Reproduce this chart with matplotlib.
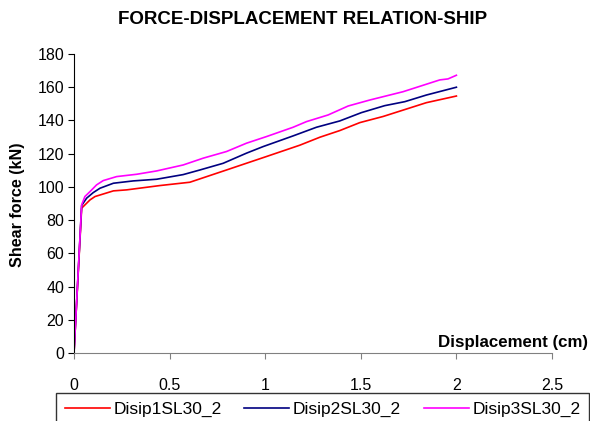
import numpy as np
import matplotlib
matplotlib.use("Agg")
import matplotlib.pyplot as plt

plt.rcParams['font.family'] = ['Liberation Sans', 'DejaVu Sans']

# Data
disp1 = [0, 0.04, 0.084, 0.11, 0.206, 0.275, 0.449, 0.606, 0.798, 1.007, 1.181,
         1.286, 1.39, 1.495, 1.617, 1.843, 2.0]
force1 = [0, 87.2, 92.2, 94.2, 97.6, 98.2, 100.8, 102.8, 110.2, 118.3, 125.1,
          129.9, 133.9, 138.7, 142.4, 150.7, 154.7]

disp2 = [0, 0.04, 0.066, 0.101, 0.136, 0.206, 0.31, 0.432, 0.571, 0.659, 0.78,
         0.902, 0.99, 1.146, 1.268, 1.39, 1.503, 1.625, 1.73, 1.843, 2.0]
force2 = [0, 88.8, 93.2, 96.6, 99.2, 102.2, 103.6, 104.6, 107.4, 110.2, 114.2,
          120.3, 124.3, 130.7, 135.9, 139.7, 144.7, 148.9, 151.3, 155.3, 160.0]

disp3 = [0, 0.04, 0.057, 0.084, 0.118, 0.153, 0.223, 0.328, 0.432, 0.571, 0.676,
         0.798, 0.902, 1.007, 1.146, 1.216, 1.329, 1.434, 1.547, 1.721, 1.913,
         1.956, 2.0]
force3 = [0, 89.2, 94.2, 97.2, 101.2, 103.8, 106.2, 107.6, 109.6, 113.2, 117.3,
          121.3, 126.3, 130.3, 135.9, 139.3, 143.3, 148.7, 152.3, 157.3, 164.4,
          165.0, 167.2]

labels = ["Disip1SL30_2", "Disip2SL30_2", "Disip3SL30_2"]
colors = ["#ff0000", "#000080", "#ff00ff"]

fig = plt.figure(figsize=(5.9, 4.21), dpi=100)
ax = fig.add_axes([74 / 590, 1 - 353 / 421, 478 / 590, 299 / 421])

for d, f, lab, c in zip([disp1, disp2, disp3], [force1, force2, force3], labels, colors):
    ax.plot(d, f, color=c, lw=1.2, label=lab)

ax.set_xlim(0, 2.5)
ax.set_ylim(0, 180)
ax.set_xticks(np.arange(0, 2.51, 0.5))
ax.set_xticklabels(["0", "0.5", "1", "1.5", "2", "2.5"])
ax.set_yticks(np.arange(0, 181, 20))

ax.spines['top'].set_visible(False)
ax.spines['right'].set_visible(False)
ax.spines['bottom'].set_color('#808080')
ax.spines['left'].set_color('black')
ax.tick_params(axis='x', direction='out', length=4, colors='#808080',
               labelcolor='black', labelsize=11.5, pad=14)
ax.tick_params(axis='y', direction='out', length=4, labelsize=11.5, pad=3)

fig.text(303 / 590, 1 - 20 / 421, "FORCE-DISPLACEMENT RELATION-SHIP",
         ha='center', va='center', fontsize=13.5, fontweight='bold')
fig.text(18 / 590, 1 - 205 / 421, "Shear force (kN)", rotation=90,
         ha='center', va='center', fontsize=11.6, fontweight='bold')
fig.text(588 / 590, 1 - 343 / 421, "Displacement (cm)",
         ha='right', va='center', fontsize=12.2, fontweight='bold')

leg = fig.legend(loc='upper left', bbox_to_anchor=(56 / 590, 0, 533 / 590, 1 - 393 / 421),
                 mode='expand', ncol=3, fontsize=12.5, frameon=True, fancybox=False,
                 borderpad=0.5, handlelength=2.6, handletextpad=0.2,
                 borderaxespad=0)
leg.get_frame().set_edgecolor('black')
leg.get_frame().set_linewidth(1.0)

fig.savefig("out.png", dpi=100)
